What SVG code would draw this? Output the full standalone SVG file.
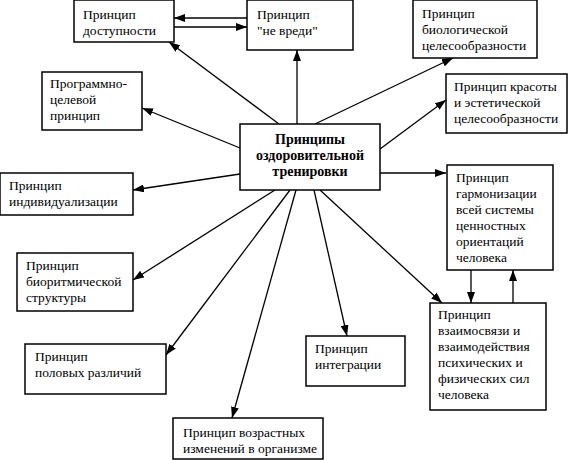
<svg xmlns="http://www.w3.org/2000/svg" width="570" height="460" viewBox="0 0 570 460">
<defs>
<marker id="ah" markerUnits="userSpaceOnUse" markerWidth="11" markerHeight="8" refX="11" refY="4" orient="auto">
<path d="M0,0 L11,4 L0,8 z" fill="#000"/>
</marker>
<style>
rect{fill:#fff;stroke:#000;stroke-width:1.5}
text{font-family:"Liberation Serif","Times New Roman",serif;font-size:13.5px;fill:#000}
.b{font-weight:bold;font-size:14px;text-anchor:middle}
.c line{stroke:#000;stroke-width:1.3;marker-end:url(#ah)}
</style>
</defs>
<rect x="0" y="0" width="570" height="460" style="fill:#fff;stroke:none"/>
<g class="c" id="connectors">
<line x1="247" y1="18" x2="174" y2="18"/>
<line x1="174" y1="27" x2="247" y2="27"/>
<line x1="279" y1="124" x2="169" y2="42"/>
<line x1="297" y1="124" x2="297" y2="50"/>
<line x1="315" y1="124" x2="453" y2="58"/>
<line x1="380" y1="149" x2="446" y2="100"/>
<line x1="380" y1="173" x2="446" y2="173"/>
<line x1="240" y1="148" x2="142" y2="108"/>
<line x1="240" y1="174" x2="133" y2="190"/>
<line x1="275" y1="190" x2="133" y2="280"/>
<line x1="290" y1="190" x2="166" y2="355"/>
<line x1="296" y1="190" x2="232" y2="418"/>
<line x1="314" y1="190" x2="347" y2="336"/>
<line x1="320" y1="190" x2="442" y2="303"/>
<line x1="471" y1="270" x2="471" y2="303"/>
<line x1="513" y1="303" x2="513" y2="270"/>
</g>
<g id="n-dostupnost"><rect x="74" y="0" width="100" height="42"/><text x="83" y="19">Принцип</text><text x="83" y="35">доступности</text></g>
<g id="n-ne-vredi"><rect x="247" y="0" width="106" height="50"/><text x="257" y="19">Принцип</text><text x="257" y="35">"не вреди"</text></g>
<g id="n-bio"><rect x="413" y="0" width="124" height="58"/><text x="422" y="18">Принцип</text><text x="422" y="34">биологической</text><text x="422" y="50">целесообразности</text></g>
<g id="n-program"><rect x="42" y="72" width="100" height="58"/><text x="50" y="88">Программно-</text><text x="50" y="104">целевой</text><text x="50" y="120">принцип</text></g>
<g id="n-krasota"><rect x="446" y="74" width="121" height="59"/><text x="454" y="91">Принцип красоты</text><text x="454" y="107">и эстетической</text><text x="454" y="123">целесообразности</text></g>
<g id="n-center"><rect x="240" y="124" width="140" height="66"/><text class="b" x="310" y="144">Принципы</text><text class="b" x="310" y="160">оздоровительной</text><text class="b" x="310" y="176">тренировки</text></g>
<g id="n-individ"><rect x="0" y="173" width="133" height="42"/><text x="9" y="190">Принцип</text><text x="9" y="206">индивидуализации</text></g>
<g id="n-garmon"><rect x="447" y="165" width="106" height="105"/><text x="456" y="182">Принцип</text><text x="456" y="198">гармонизации</text><text x="456" y="214">всей системы</text><text x="456" y="230">ценностных</text><text x="456" y="246">ориентаций</text><text x="456" y="262">человека</text></g>
<g id="n-bioritm"><rect x="17" y="253" width="116" height="58"/><text x="26" y="270">Принцип</text><text x="26" y="286">биоритмической</text><text x="26" y="302">структуры</text></g>
<g id="n-polov"><rect x="25" y="344" width="141" height="50"/><text x="35" y="361">Принцип</text><text x="35" y="377">половых различий</text></g>
<g id="n-integr"><rect x="306" y="336" width="99" height="50"/><text x="315" y="353">Принцип</text><text x="315" y="369">интеграции</text></g>
<g id="n-vzaim"><rect x="430" y="303" width="116" height="107"/><text x="438" y="319">Принцип</text><text x="438" y="335">взаимосвязи и</text><text x="438" y="351">взаимодействия</text><text x="438" y="367">психических и</text><text x="438" y="383">физических сил</text><text x="438" y="399">человека</text></g>
<g id="n-vozrast"><rect x="173" y="418" width="150" height="41"/><text x="183" y="437">Принцип возрастных</text><text x="183" y="453">изменений в организме</text></g>
</svg>
